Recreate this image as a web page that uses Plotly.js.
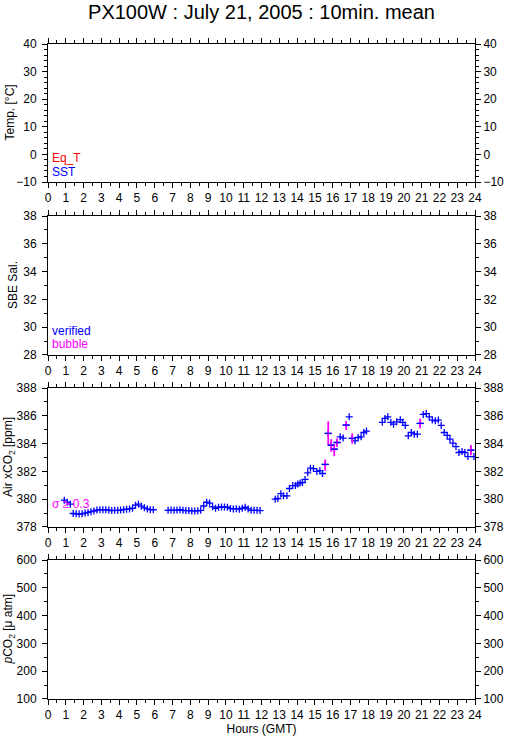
<!DOCTYPE html>
<html><head><meta charset="utf-8">
<script src="https://cdn.plot.ly/plotly-3.0.1.min.js"></script>
<style>html,body{margin:0;padding:0;background:#fff}#chart{width:509px;height:739px}</style>
</head><body><div id="chart"></div>
<script>
// ---- data ----
const hours = [0.917,1.083,1.25,1.417,1.583,1.75,1.917,2.083,2.25,2.417,2.583,2.75,2.917,3.083,3.25,3.417,3.583,3.75,3.917,4.083,4.25,4.417,4.583,4.75,4.917,5.083,5.25,5.417,5.583,5.75,5.917,
 6.75,6.917,7.083,7.25,7.417,7.583,7.75,7.917,8.083,8.25,8.417,8.583,8.75,8.917,9.083,9.25,9.417,9.583,9.75,9.917,10.083,10.25,10.417,10.583,10.75,10.917,11.083,11.25,11.417,11.583,11.75,11.917,
 12.77,12.92,13.09,13.24,13.43,13.57,13.76,13.91,14.04,14.17,14.3,14.45,14.6,14.75,14.92,15.11,15.28,15.43,15.58,15.75,15.92,16.09,16.25,16.42,16.59,16.76,16.93,17.1,17.26,17.43,17.6,17.75,17.9,
 18.79,18.94,19.1,19.27,19.42,19.6,19.8,19.94,20.08,20.25,20.42,20.59,20.76,20.92,21.09,21.26,21.43,21.6,21.77,21.94,22.1,22.27,22.44,22.59,22.76,22.93,23.1,23.27,23.43,23.6,23.77,23.94];
const airXCO2 = [379.93,379.78,379.64,378.97,378.95,378.93,378.95,379.0,379.05,379.1,379.15,379.22,379.25,379.24,379.24,379.22,379.18,379.2,379.2,379.22,379.25,379.28,379.3,379.35,379.57,379.64,379.5,379.38,379.3,379.25,379.24,
 379.2,379.22,379.2,379.22,379.24,379.2,379.18,379.18,379.16,379.16,379.17,379.2,379.51,379.78,379.72,379.45,379.35,379.42,379.44,379.44,379.42,379.33,379.3,379.32,379.28,379.35,379.42,379.3,379.2,379.2,379.2,379.18,
 380.0,380.05,380.4,380.24,380.24,380.77,380.98,380.98,381.1,381.17,381.2,381.42,381.9,382.23,382.2,382.0,382.05,381.85,382.5,384.73,383.89,383.6,384.08,384.49,384.4,385.33,385.93,384.37,384.2,384.44,384.49,384.8,384.9,
 385.53,385.81,385.93,385.53,385.4,385.57,385.72,385.53,385.31,384.56,384.8,384.68,384.68,385.45,386.1,386.16,385.93,385.69,385.64,385.69,385.31,384.8,384.59,384.32,384.03,383.79,383.36,383.43,383.36,383.07,383.53,383.07];
const sigmaHours  = [15.58,15.75,15.92,16.09,16.25,16.76,17.1,20.92,23.77];
const sigmaValues = [382.5,384.73,383.89,383.6,384.08,385.33,384.37,385.45,383.53];
const sigmaPlus   = [0.36,0.87,0.43,0.36,0.29,0.29,0.36,0.35,0.37];
const sigmaMinus  = [0.46,0.83,0.48,0.5,0.31,0.36,0.37,0.35,0.36];

const panelTitles = ['Temp. [°C]','SBE Sal.','Air xCO<sub>2</sub> [ppm]','<i>p</i>CO<sub>2</sub> [μ atm]'];
const panelRanges = [[-10,40],[28,38],[378,388],[100,600]];
const panelDticks = [10,2,2,100];
const panelMinor  = [2,1,1,50];

// ---- layout ----
const FONT = 'Liberation Sans, Arial, Helvetica, sans-serif';
const domains = [[0.7893,1.0],[0.5252,0.7374],[0.2626,0.4748],[0,0.2122]];
const titleX = [10.5,13.5,8.5,9];

const layout = {
  width:509, height:739,
  margin:{l:48,r:34,t:44,b:40},
  paper_bgcolor:'#fff', plot_bgcolor:'#fff',
  showlegend:false,
  font:{family:FONT,size:12,color:'#000'},
  title:{text:'PX100W : July 21, 2005 : 10min. mean', font:{size:20,family:FONT,color:'#000'},
         x:0.5, xref:'paper', xanchor:'center', y:1-11.5/739, yref:'container', yanchor:'middle'},
  annotations:[]
};

const traces = [];
for (let i=0;i<4;i++){
  const n = i+1, s = n===1?'':String(n);
  const xa = {
    anchor:'y'+s, domain:[0,1], range:[0,24], autorange:false, tick0:0, dtick:1,
    ticks:'outside', ticklen:5, tickwidth:1, tickcolor:'#000',
    showline:true, linecolor:'#000', linewidth:1, mirror:'ticks',
    showgrid:false, zeroline:false, fixedrange:true,
    tickfont:{size:12,family:FONT,color:'#000'},
    minor:{dtick:0.5, tick0:0, ticks:'outside', ticklen:3, tickcolor:'#000', tickwidth:1, showgrid:false}
  };
  if (i===3) xa.title = {text:'Hours (GMT)', font:{size:12,family:FONT,color:'#000'}, standoff:2};
  layout['xaxis'+s] = xa;
  const ybase = {
    domain:domains[i], range:panelRanges[i], autorange:false, tick0:panelRanges[i][0], dtick:panelDticks[i],
    ticks:'outside', ticklen:5, tickwidth:1, tickcolor:'#000',
    showline:true, linecolor:'#000', linewidth:1,
    showgrid:false, zeroline:false, fixedrange:true,
    tickfont:{size:12,family:FONT,color:'#000'},
    minor:{dtick:panelMinor[i], ticks:'outside', ticklen:3, tickcolor:'#000', tickwidth:1, showgrid:false}
  };
  layout['yaxis'+s] = Object.assign({}, ybase, {anchor:'x'+s, side:'left', ticklabelstandoff:3});
  layout['yaxis'+(n+4)] = Object.assign({}, ybase, {anchor:'x'+s, side:'right', overlaying:'y'+s});
  delete layout['yaxis'+(n+4)].domain;
  traces.push({x:[null],y:[null],xaxis:'x'+s,yaxis:'y'+s,type:'scatter',mode:'markers',hoverinfo:'skip'});
  traces.push({x:[null],y:[null],xaxis:'x'+s,yaxis:'y'+(n+4),type:'scatter',mode:'markers',hoverinfo:'skip'});
  const d = domains[i];
  layout.annotations.push({text:panelTitles[i], xref:'paper', yref:'paper',
    x:(titleX[i]-48)/427, y:(d[0]+d[1])/2, xanchor:'center', yanchor:'middle',
    textangle:-90, showarrow:false, font:{size:12,family:FONT,color:'#000'}});
}

function lab(text, axis, fx, fy, color){
  layout.annotations.push({text:text, xref:'x'+axis+' domain', yref:'y'+axis+' domain',
    x:fx, y:fy, xanchor:'left', yanchor:'middle', showarrow:false,
    font:{size:12,family:FONT,color:color}});
}
lab('Eq_T','',0.004,0.174,'#ff0000');
lab('SST','',0.004,0.072,'#0000ff');
lab('verified','2',0.004,0.173,'#0000ff');
lab('bubble','2',0.004,0.079,'#ff00ff');
lab('σ ≥ 0.3','3',0.004,0.165,'#ff00ff');

traces.push({x:hours, y:airXCO2, xaxis:'x3', yaxis:'y3', type:'scatter', mode:'markers',
  marker:{symbol:'cross-thin', size:5, color:'#0000ff', line:{color:'#0000ff', width:1.3}}});
// sigma bars (vertical segments built from the sigma arrays), drawn on top
const barX = [], barY = [];
sigmaHours.forEach((t,k)=>{
  barX.push(t,t,null);
  barY.push(sigmaValues[k]-sigmaMinus[k], sigmaValues[k]+sigmaPlus[k], null);
});
traces.push({x:barX, y:barY, xaxis:'x3', yaxis:'y3', type:'scatter', mode:'lines',
  line:{color:'#ff00ff', width:1.8}, connectgaps:false, hoverinfo:'skip'});
traces.push({x:sigmaHours, y:sigmaValues, xaxis:'x3', yaxis:'y3', type:'scatter', mode:'markers',
  marker:{symbol:'line-ew', size:5, color:'#0000ff', line:{color:'#0000ff', width:1.3}}, hoverinfo:'skip'});

Plotly.newPlot('chart', traces, layout, {staticPlot:true, displayModeBar:false});
</script></body></html>
